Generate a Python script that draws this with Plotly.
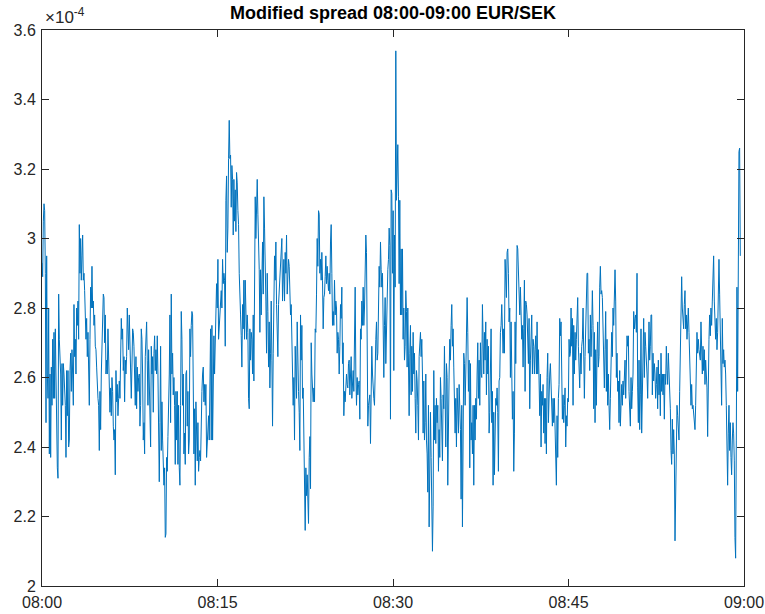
import plotly.graph_objects as go
import pandas as pd

# Modified spread EUR/SEK, units of 1e-4 in ~6.5 minute segments
seg_a = [2.93, 2.89, 3.05, 3.10, 3.08, 2.90, 2.47, 2.95, 2.61, 2.54, 2.80, 2.38, 2.61, 2.37, 2.63, 2.52, 2.71, 2.54, 2.73, 2.54,
         2.74, 2.55, 2.47, 2.34, 2.31, 2.84, 2.71, 2.66, 2.61, 2.42, 2.64, 2.52, 2.64, 2.61, 2.58, 2.52, 2.37, 2.62, 2.49, 2.62,
         2.40, 2.42, 2.62, 2.67, 2.56, 2.68, 2.61, 2.52, 2.81, 2.66, 2.71, 2.61, 2.80, 2.75, 2.82, 2.71, 3.04, 2.90, 3.00, 2.88,
         2.95, 3.01, 2.88, 2.90, 2.85, 2.76, 2.71, 2.77, 2.66, 2.73, 2.62, 2.52, 2.71, 2.86, 2.80, 2.92, 2.80, 2.82, 2.75, 2.78,
         2.69, 2.68, 2.63, 2.56, 2.54, 2.52, 2.39, 2.56, 2.45, 2.61, 2.71, 2.78]
seg_b = [2.84, 2.83, 2.70, 2.78, 2.61, 2.65, 2.61, 2.74, 2.65, 2.61, 2.50, 2.57, 2.49, 2.60, 2.56, 2.46, 2.42, 2.45, 2.32, 2.62,
         2.53, 2.58, 2.49, 2.54, 2.59, 2.54, 2.75, 2.77, 2.71, 2.74, 2.62, 2.66, 2.53, 2.65, 2.61, 2.66, 2.80, 2.74, 2.68, 2.78,
         2.66, 2.65, 2.54, 2.63, 2.74, 2.73, 2.69, 2.60, 2.52, 2.66, 2.51, 2.63, 2.56, 2.60, 2.61, 2.46, 2.52, 2.74, 2.71, 2.61,
         2.42, 2.47, 2.38, 2.66, 2.71, 2.76, 2.65, 2.52, 2.68, 2.56, 2.42, 2.40, 2.69, 2.61, 2.66, 2.50, 2.67, 2.72, 2.62, 2.68,
         2.61, 2.72, 2.61, 2.32, 2.30, 2.47, 2.69, 2.39, 2.53, 2.42, 2.30, 2.29, 2.34, 2.14, 2.15, 2.37, 2.33, 2.43, 2.50, 2.61,
         2.78, 2.47, 2.84, 2.61, 2.67, 2.55, 2.60, 2.52, 2.35, 2.56, 2.42]
seg_c = [2.56, 2.35, 2.52, 2.34, 2.29, 2.52, 2.79, 2.71, 2.52, 2.61, 2.38, 2.44, 2.35, 2.61, 2.62, 2.46, 2.56, 2.38, 2.42, 2.74,
         2.66, 2.75, 2.79, 2.78, 2.61, 2.38, 2.51, 2.29, 2.53, 2.46, 2.36, 2.47, 2.33, 2.37, 2.39, 2.36, 2.52, 2.56, 2.61, 2.63,
         2.53, 2.58, 2.52, 2.58, 2.37, 2.42, 2.48, 2.49, 2.42, 2.53, 2.74, 2.42, 2.75, 2.42, 2.66, 2.72, 2.61, 2.74, 2.82, 2.87,
         2.80, 2.94, 2.71, 2.75, 2.80, 2.81, 2.85, 2.80, 2.94, 2.87, 2.90, 2.88, 2.69, 3.11, 3.18, 2.96, 3.03, 3.23, 3.34, 3.23,
         3.24, 3.09, 3.21, 3.17, 3.01, 3.17, 3.05, 3.14, 3.02, 3.19, 3.16, 3.08, 3.04, 2.90, 2.86, 2.78, 2.72, 2.63, 2.81, 2.74,
         2.88, 2.71, 2.88, 2.78, 2.71, 2.78, 2.73, 2.54, 2.51, 2.74, 2.65, 2.73]
seg_d = [2.71, 2.61, 2.78, 2.59, 2.86, 3.12, 3.00, 3.11, 3.17, 3.07, 2.99, 2.91, 2.73, 2.91, 2.78, 2.86, 2.99, 2.84, 3.12, 3.03,
         2.95, 2.82, 2.67, 2.90, 2.79, 2.63, 2.76, 2.57, 2.67, 2.82, 2.65, 2.46, 2.67, 2.93, 2.95, 2.88, 2.99, 2.81, 2.70, 2.66,
         2.81, 2.85, 2.86, 2.90, 2.96, 3.00, 2.82, 2.90, 2.94, 2.82, 2.96, 2.90, 3.01, 2.84, 2.90, 2.94, 2.92, 2.86, 2.78, 2.81,
         2.73, 2.61, 2.52, 2.60, 2.42, 2.69, 2.61, 2.54, 2.76, 2.61, 2.56, 2.50, 2.39, 2.78, 2.65, 2.75, 2.54, 2.57, 2.45, 2.34,
         2.16, 2.34, 2.26, 2.32, 2.19, 2.18, 2.37, 2.43, 2.28, 2.70, 2.61, 2.57, 2.53, 2.57, 2.53, 2.74, 2.73, 2.84, 3.00, 2.92,
         3.08, 3.07, 2.90, 2.94, 2.88, 2.96, 2.88, 2.74, 2.83, 2.84, 2.89, 2.95, 2.87]
seg_e = [2.92, 2.88, 2.85, 2.90, 2.84, 2.99, 3.04, 2.90, 2.75, 2.79, 2.75, 2.88, 2.78, 2.82, 2.80, 2.67, 2.73, 2.71, 2.61, 2.69,
         2.81, 2.77, 2.86, 2.64, 2.70, 2.49, 2.56, 2.53, 2.57, 2.61, 2.58, 2.57, 2.64, 2.65, 2.55, 2.60, 2.66, 2.54, 2.61, 2.62,
         2.56, 2.69, 2.86, 2.61, 2.52, 2.60, 2.55, 2.58, 2.59, 2.48, 2.74, 2.71, 2.82, 2.75, 2.86, 2.75, 2.80, 3.00, 3.01, 2.96,
         2.74, 2.46, 2.52, 2.54, 2.55, 2.41, 2.62, 2.69, 2.61, 2.54, 2.54, 2.52, 2.66, 2.71, 2.76, 2.65, 2.67, 2.82, 2.92, 2.86,
         2.99, 2.91, 2.86, 2.90, 2.71, 2.60, 2.75, 2.83, 2.64, 2.74, 2.90, 2.91, 2.94, 3.03, 2.98, 2.48, 3.14, 3.13, 2.90, 3.08,
         2.62, 3.01, 2.86, 3.54, 3.11, 3.26, 3.27, 3.12, 2.87, 3.11, 2.78, 2.97, 2.78]
seg_f = [2.97, 2.71, 2.80, 2.65, 2.69, 2.85, 2.79, 2.63, 2.80, 2.68, 2.49, 2.67, 2.75, 2.55, 2.69, 2.56, 2.73, 2.61, 2.67, 2.54,
         2.44, 2.62, 2.59, 2.52, 2.42, 2.66, 2.71, 2.73, 2.66, 2.71, 2.61, 2.44, 2.59, 2.42, 2.47, 2.61, 2.42, 2.38, 2.27, 2.52,
         2.17, 2.37, 2.50, 2.37, 2.22, 2.10, 2.23, 2.62, 2.42, 2.52, 2.41, 2.54, 2.47, 2.52, 2.33, 2.45, 2.37, 2.60, 2.54, 2.40,
         2.36, 2.55, 2.51, 2.69, 2.49, 2.40, 2.64, 2.60, 2.29, 2.52, 2.61, 2.71, 2.65, 2.75, 2.81, 2.69, 2.74, 2.63, 2.47, 2.44,
         2.54, 2.40, 2.57, 2.52, 2.44, 2.58, 2.52, 2.45, 2.25, 2.52, 2.17, 2.47, 2.67, 2.64, 2.52, 2.61, 2.76, 2.83, 2.73, 2.56,
         2.65, 2.34, 2.64, 2.42, 2.47, 2.38, 2.52, 2.29, 2.52, 2.42, 2.54, 2.48, 2.61]
seg_g = [2.70, 2.54, 2.65, 2.52, 2.70, 2.61, 2.60, 2.81, 2.65, 2.61, 2.73, 2.65, 2.76, 2.55, 2.71, 2.61, 2.69, 2.44, 2.50, 2.63,
         2.74, 2.47, 2.56, 2.29, 2.50, 2.32, 2.54, 2.54, 2.52, 2.57, 2.50, 2.33, 2.59, 2.60, 2.73, 2.75, 2.81, 2.75, 2.67, 2.74,
         2.67, 2.94, 2.88, 2.83, 2.96, 2.97, 2.90, 2.76, 2.80, 2.60, 2.76, 2.59, 2.48, 2.56, 2.33, 2.44, 2.76, 2.64, 2.93, 2.98,
         2.97, 2.90, 2.84, 2.78, 2.86, 2.81, 2.71, 2.75, 2.63, 2.74, 2.88, 2.56, 2.82, 2.81, 2.78, 2.71, 2.64, 2.77, 2.51, 2.65,
         2.73, 2.78, 2.61, 2.71, 2.69, 2.61, 2.68, 2.72, 2.61, 2.76, 2.61, 2.68, 2.59, 2.49, 2.61, 2.40, 2.56, 2.52, 2.58, 2.44,
         2.54, 2.41, 2.54, 2.38, 2.60, 2.67, 2.47, 2.56, 2.61, 2.64, 2.55, 2.53, 2.46]
seg_h = [2.54, 2.47, 2.54, 2.47, 2.33, 2.29, 2.49, 2.37, 2.54, 2.58, 2.77, 2.72, 2.76, 2.59, 2.48, 2.55, 2.47, 2.52, 2.57, 2.40,
         2.49, 2.46, 2.54, 2.53, 2.71, 2.66, 2.67, 2.80, 2.69, 2.77, 2.52, 2.75, 2.61, 2.73, 2.65, 2.71, 2.75, 2.83, 2.69, 2.61,
         2.57, 2.67, 2.61, 2.69, 2.71, 2.80, 2.56, 2.54, 2.66, 2.77, 2.78, 2.90, 2.90, 2.67, 2.71, 2.62, 2.78, 2.66, 2.74, 2.85,
         2.75, 2.51, 2.73, 2.47, 2.68, 2.52, 2.67, 2.76, 2.63, 2.66, 2.86, 2.92, 2.84, 2.85, 2.83, 2.75, 2.71, 2.57, 2.68, 2.79,
         2.56, 2.71, 2.52, 2.61, 2.52, 2.45, 2.54, 2.68, 2.73, 2.66, 2.80, 2.75, 2.86, 2.91, 2.82, 2.60, 2.67, 2.56, 2.59, 2.47,
         2.62, 2.46, 2.52, 2.58, 2.52, 2.59, 2.55, 2.61, 2.65, 2.54, 2.67, 2.72, 2.69]
seg_i = [2.72, 2.56, 2.52, 2.46, 2.60, 2.51, 2.56, 2.61, 2.79, 2.74, 2.77, 2.78, 2.73, 2.90, 2.57, 2.47, 2.65, 2.45, 2.55, 2.74,
         2.44, 2.61, 2.61, 2.77, 2.60, 2.73, 2.69, 2.66, 2.61, 2.54, 2.68, 2.76, 2.65, 2.69, 2.78, 2.78, 2.55, 2.67, 2.59, 2.64,
         2.61, 2.54, 2.58, 2.63, 2.51, 2.65, 2.55, 2.61, 2.49, 2.67, 2.56, 2.61, 2.55, 2.61, 2.48, 2.61, 2.58, 2.69, 2.62, 2.58,
         2.67, 2.61, 2.59, 2.51, 2.39, 2.35, 2.48, 2.38, 2.45, 2.38, 2.13, 2.29, 2.42, 2.52, 2.49, 2.45, 2.42, 2.56, 2.68, 2.84,
         2.89, 2.80, 2.75, 2.74, 2.81, 2.85, 2.74, 2.78, 2.71, 2.76, 2.80, 2.73, 2.65, 2.61, 2.52, 2.58, 2.51, 2.52, 2.49, 2.45,
         2.45, 2.52, 2.61, 2.73, 2.67, 2.71, 2.68, 2.67, 2.65, 2.76, 2.68, 2.61, 2.69, 2.62, 2.68, 2.58, 2.65, 2.61, 2.57, 2.43]
seg_j = [2.67, 2.71, 2.78, 2.72, 2.80, 2.75, 2.82, 2.87, 2.95, 2.82, 2.78, 2.71, 2.77, 2.68, 2.73, 2.80, 2.94, 2.84, 2.73, 2.60,
         2.52, 2.77, 2.64, 2.68, 2.63, 2.65, 2.61, 2.52, 2.42, 2.29, 2.44, 2.52, 2.39, 2.47, 2.37, 2.32, 2.42, 2.47, 2.44, 2.36,
         2.14, 2.08, 2.42, 2.86, 2.56, 3.00, 3.25, 3.26, 2.95]

spread_1e4 = seg_a + seg_b + seg_c + seg_d + seg_e + seg_f + seg_g + seg_h + seg_i + seg_j

first_time = "2024-01-02 08:00:00"
last_time = "2024-01-02 08:59:41"
times = pd.date_range(first_time, last_time, periods=len(spread_1e4))

x_tick_vals = ["2024-01-02 08:00", "2024-01-02 08:15", "2024-01-02 08:30", "2024-01-02 08:45", "2024-01-02 09:00"]
x_tick_text = ["08:00", "08:15", "08:30", "08:45", "09:00"]
y_tick_vals = [2.0, 2.2, 2.4, 2.6, 2.8, 3.0, 3.2, 3.4, 3.6]
y_tick_text = ["2", "2.2", "2.4", "2.6", "2.8", "3", "3.2", "3.4", "3.6"]

AX = "#262626"
FONT = "Liberation Sans, Arial, Helvetica, sans-serif"

fig = go.Figure(go.Scatter(x=times, y=spread_1e4, mode="lines",
                           line=dict(color="#0072BD", width=1), showlegend=False))

axis_common = dict(showline=True, linecolor=AX, linewidth=1, mirror="ticks",
                   ticks="inside", ticklen=7, tickwidth=1, tickcolor=AX,
                   showgrid=False, zeroline=False, ticklabeloverflow="allow", automargin=False,
                   tickfont=dict(family=FONT, size=16, color=AX))

fig.update_xaxes(type="date", range=["2024-01-02 08:00", "2024-01-02 09:00"],
                 tickvals=x_tick_vals, ticktext=x_tick_text, ticklabelstandoff=2, **axis_common)
fig.update_yaxes(range=[2.0, 3.6], tickvals=y_tick_vals, ticktext=y_tick_text, ticklabelstandoff=2, **axis_common)

fig.add_annotation(text="<b>Modified spread 08:00-09:00 EUR/SEK</b>", xref="paper", yref="paper",
                   x=0.5, y=1, xanchor="center", yanchor="bottom", yshift=5, showarrow=False,
                   font=dict(family=FONT, size=18, color="#000000"))
fig.add_annotation(text="\u00d710<sup>-4</sup>", xref="paper", yref="paper",
                   x=0, y=1, xanchor="left", yanchor="bottom", xshift=1, yshift=1, showarrow=False,
                   font=dict(family=FONT, size=17, color=AX))

fig.update_layout(width=765, height=614, margin=dict(l=42, r=21, t=30, b=28, autoexpand=False),
                  paper_bgcolor="white", plot_bgcolor="white")

fig.write_html("out.html")
